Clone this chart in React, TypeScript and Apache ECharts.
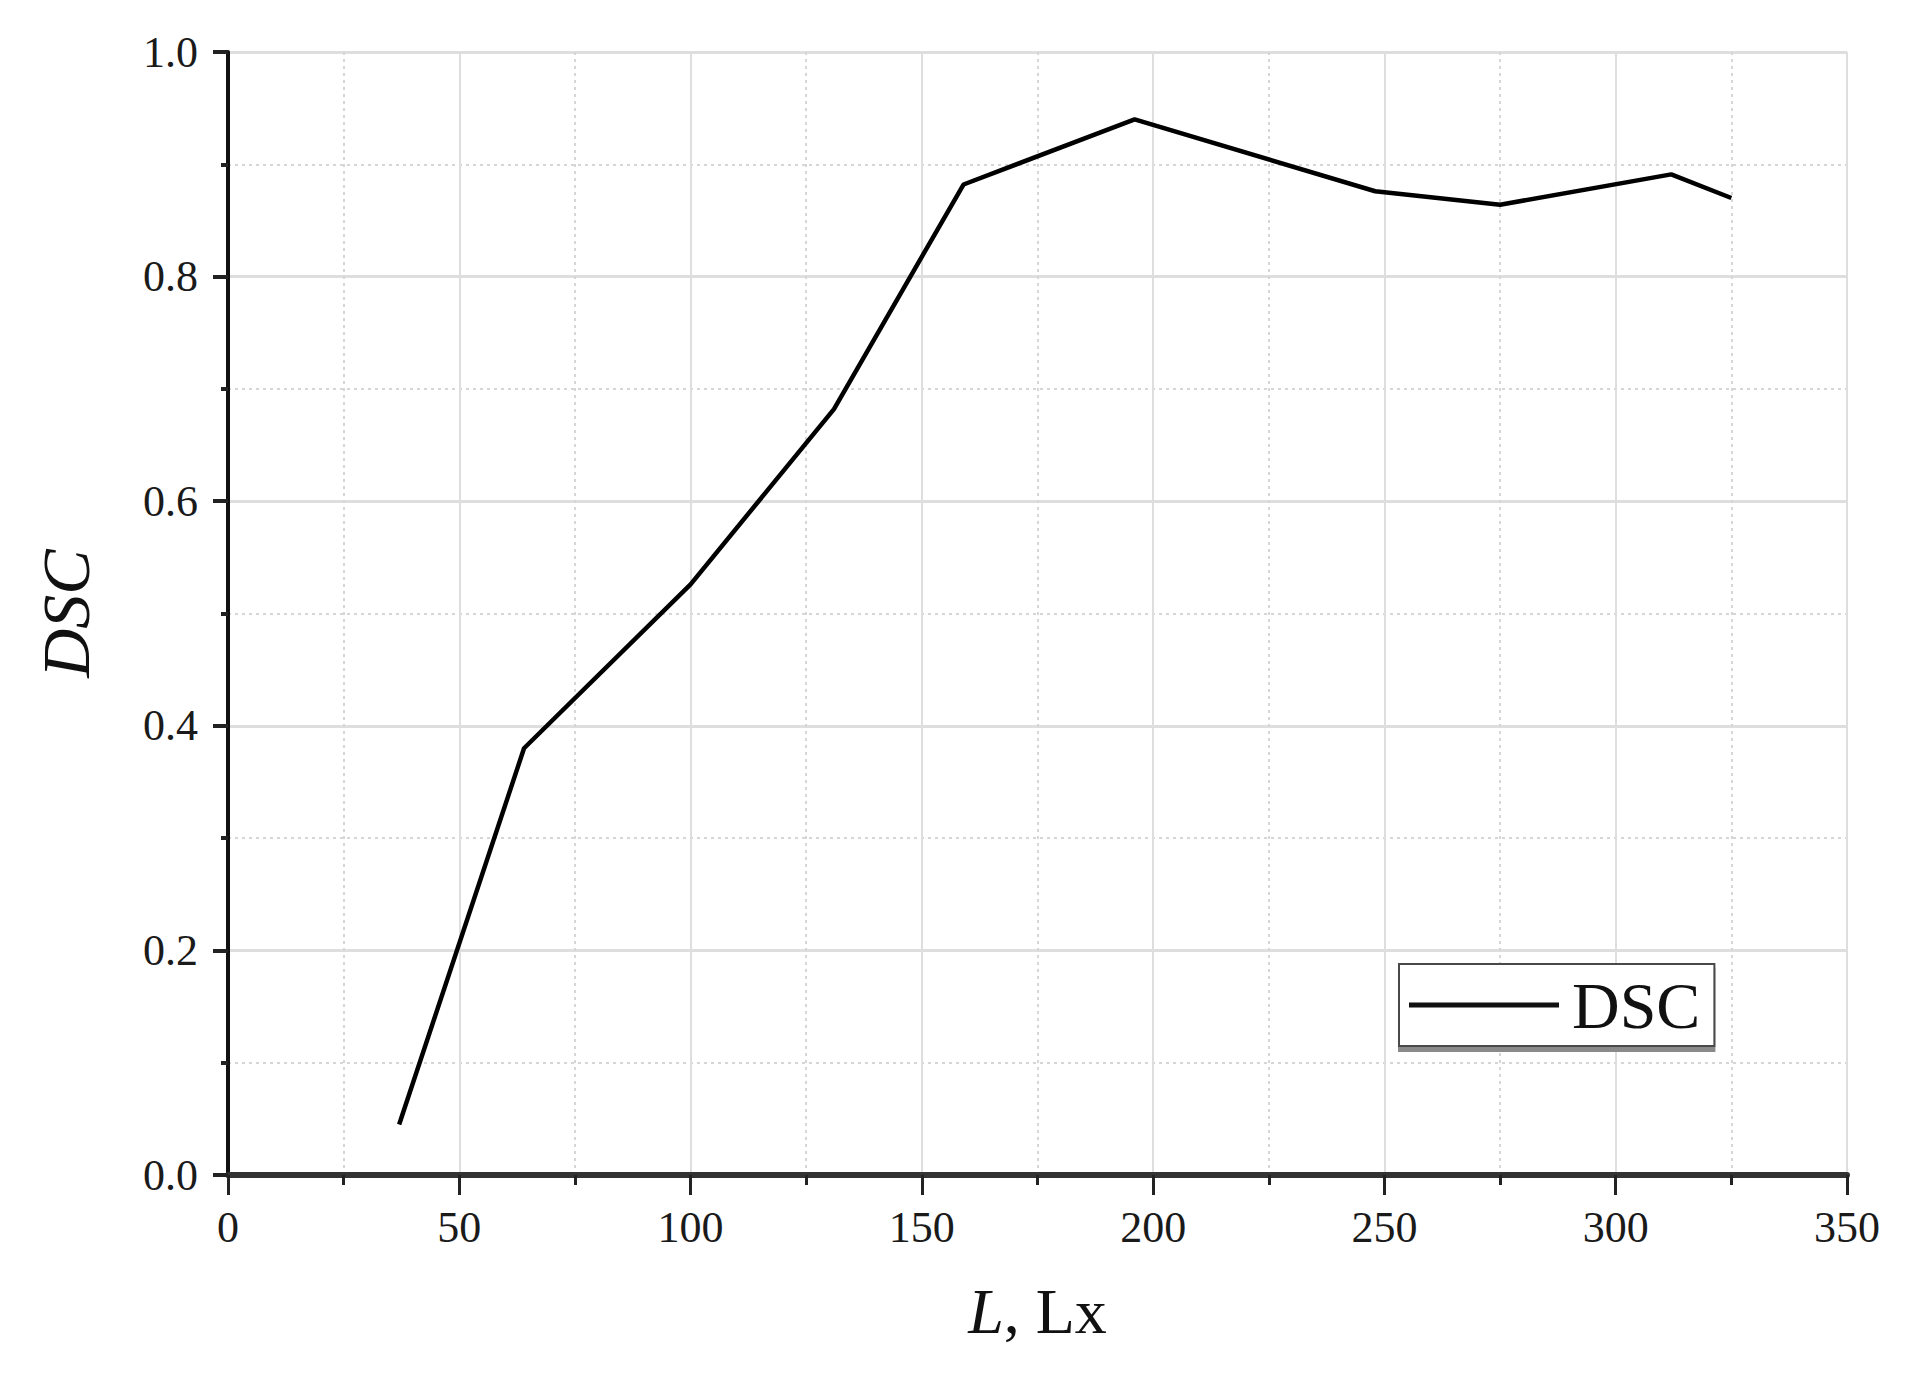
import React, { useEffect, useRef } from "react";
import * as echarts from "echarts";

const illuminance = [37, 64, 100, 131, 159, 196, 248, 275, 312, 325];
const dscValues = [0.045, 0.38, 0.526, 0.682, 0.882, 0.94, 0.876, 0.864, 0.891, 0.87];
const seriesName = "DSC";
const xTicks = { min: 0, max: 350, interval: 50 };
const yTicks = { min: 0, max: 1, interval: 0.2 };

const FONT = "'Liberation Serif', 'Times New Roman', serif";

export default function App() {
  const ref = useRef<HTMLDivElement>(null);
  useEffect(() => {
    if (!ref.current) return;
    const chart = echarts.init(ref.current, undefined, { renderer: "svg" });
    const data = illuminance.map((x, i) => [x, dscValues[i]]);
    chart.setOption({
      animation: false,
      backgroundColor: "#ffffff",
      grid: { left: 228, right: 66, top: 52, bottom: 206, containLabel: false },
      legend: {
        data: [{ name: seriesName, icon: "rect" }],
        left: 1399,
        top: 964,
        orient: "horizontal",
        itemWidth: 150,
        itemHeight: 5,
        itemGap: 0,
        padding: [8, 14, 8, 10],
        borderColor: "#4a4a4a",
        borderWidth: 2,
        backgroundColor: "#ffffff",
        shadowColor: "#8a8a8a",
        shadowOffsetY: 5,
        shadowOffsetX: 0,
        shadowBlur: 0,
        itemStyle: { color: "#111" },
        textStyle: { fontFamily: FONT, fontSize: 66, color: "#111", padding: [0, 0, 0, 8] },
      },
      xAxis: {
        type: "value",
        min: xTicks.min,
        max: xTicks.max,
        interval: xTicks.interval,
        name: "{i|L}, Lx",
        nameLocation: "middle",
        nameGap: 104,
        nameTextStyle: {
          fontFamily: FONT,
          fontSize: 64,
          color: "#111",
          rich: { i: { fontFamily: FONT, fontSize: 64, fontStyle: "italic", color: "#111" } },
        },
        axisLine: { show: true, onZero: false, lineStyle: { color: "#333", width: 6 } },
        axisTick: { show: true, length: 20, lineStyle: { color: "#222", width: 3 } },
        minorTick: { show: true, splitNumber: 2, length: 10, lineStyle: { color: "#222", width: 3 } },
        axisLabel: { fontFamily: FONT, fontSize: 44, color: "#1a1a1a", margin: 30 },
        splitLine: { show: true, lineStyle: { color: "#dedede", width: 2 } },
        minorSplitLine: { show: true, lineStyle: { color: "#d6d6d6", width: 2, type: [3, 4] } },
      },
      yAxis: {
        type: "value",
        min: yTicks.min,
        max: yTicks.max,
        interval: yTicks.interval,
        name: "DSC",
        nameLocation: "middle",
        nameGap: 128,
        nameTextStyle: { fontFamily: FONT, fontSize: 68, fontStyle: "italic", color: "#111" },
        axisLine: { show: true, onZero: false, lineStyle: { color: "#111", width: 4 } },
        axisTick: { show: true, length: 15, lineStyle: { color: "#222", width: 4 } },
        minorTick: { show: true, splitNumber: 2, length: 7, lineStyle: { color: "#222", width: 4 } },
        axisLabel: {
          fontFamily: FONT,
          fontSize: 44,
          color: "#1a1a1a",
          margin: 30,
          formatter: (v: number) => v.toFixed(1),
        },
        splitLine: { show: true, lineStyle: { color: "#dedede", width: 3 } },
        minorSplitLine: { show: true, lineStyle: { color: "#d6d6d6", width: 2, type: [3, 4] } },
      },
      series: [
        {
          name: seriesName,
          type: "line",
          data,
          showSymbol: false,
          symbol: "none",
          lineStyle: { color: "#000", width: 4.5 },
          itemStyle: { color: "#000" },
        },
      ],
    });
    return () => chart.dispose();
  }, []);
  return (
    <div
      ref={ref}
      style={{ position: "fixed", left: 0, top: 0, width: "1913px", height: "1381px", background: "#fff" }}
    />
  );
}
